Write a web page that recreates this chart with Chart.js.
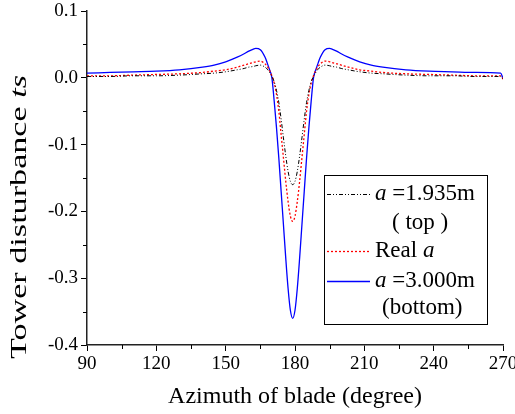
<!DOCTYPE html>
<html>
<head>
<meta charset="utf-8">
<script src="https://cdn.jsdelivr.net/npm/chart.js@4.4.1/dist/chart.umd.min.js"></script>
<style>
  html, body { margin: 0; padding: 0; background: #fff; }
  #wrap { width: 515px; height: 414px; }
</style>
</head>
<body>
<div id="wrap"><canvas id="ts_chart"></canvas></div>
<script>
// blade azimuth (degree)
const azimuth = [90, 100, 110, 120, 130, 140, 145, 150, 155, 158, 160, 162, 163, 165, 167, 168, 169,
  170, 171, 172, 173, 174, 175, 176, 177, 178, 179, 180, 181, 182, 183, 184, 185, 186, 187, 188,
  189, 190, 191, 193, 195, 196, 198, 200, 203, 208, 213, 218, 228, 238, 248, 258, 269, 270];

// tower disturbance ts, a = 1.935m (top)
const tsTop = [0.002, 0.002, 0.003, 0.003, 0.004, 0.006, 0.007, 0.009, 0.012, 0.014, 0.016, 0.017, 0.018, 0.019, 0.016, 0.013, 0.008,
  0.002, -0.006, -0.019, -0.037, -0.062, -0.09, -0.117, -0.14, -0.155, -0.16, -0.155, -0.14, -0.117, -0.09, -0.062, -0.037, -0.019, -0.006, 0.002,
  0.008, 0.013, 0.016, 0.019, 0.018, 0.017, 0.016, 0.014, 0.012, 0.009, 0.007, 0.006, 0.004, 0.003, 0.003, 0.002, 0.002, -0.002];

// real a
const tsReal = [0.003, 0.003, 0.004, 0.005, 0.006, 0.008, 0.010, 0.012, 0.016, 0.019, 0.021, 0.023, 0.024, 0.025, 0.021, 0.017, 0.011,
  0.003, -0.008, -0.025, -0.05, -0.085, -0.12, -0.155, -0.185, -0.207, -0.215, -0.207, -0.185, -0.155, -0.12, -0.085, -0.05, -0.025, -0.008, 0.003,
  0.011, 0.017, 0.021, 0.025, 0.024, 0.023, 0.021, 0.019, 0.016, 0.012, 0.010, 0.008, 0.006, 0.005, 0.004, 0.003, 0.003, -0.002];

// a = 3.000m (bottom)
const tsBottom = [0.007, 0.008, 0.009, 0.010, 0.012, 0.016, 0.019, 0.024, 0.031, 0.036, 0.040, 0.043, 0.044, 0.042, 0.031, 0.022, 0.012,
  0.000, -0.035, -0.075, -0.12, -0.17, -0.22, -0.27, -0.315, -0.348, -0.36, -0.348, -0.315, -0.27, -0.22, -0.17, -0.12, -0.075, -0.035, 0.000,
  0.012, 0.022, 0.031, 0.042, 0.044, 0.043, 0.040, 0.036, 0.031, 0.024, 0.019, 0.016, 0.012, 0.010, 0.009, 0.008, 0.007, -0.001];

const xTicks = [90, 120, 150, 180, 210, 240, 270];
const xMinor = [105, 135, 165, 195, 225, 255];
const yTicks = [0.1, 0.0, -0.1, -0.2, -0.3, -0.4];
const yMinor = [0.05, -0.05, -0.15, -0.25, -0.35];

const serif = "'Liberation Serif', 'Times New Roman', serif";

const pts = vals => azimuth.map((a, i) => ({ x: a, y: vals[i] }));

// draws one run of text made of [string, italic] pieces, starting at x
function drawRuns(ctx, runs, x, y, size) {
  runs.forEach(([s, it]) => {
    ctx.font = (it ? 'italic ' : '') + size + 'px ' + serif;
    ctx.fillText(s, x, y);
    x += ctx.measureText(s).width;
  });
}
function runsWidth(ctx, runs, size) {
  return runs.reduce((w, [s, it]) => {
    ctx.font = (it ? 'italic ' : '') + size + 'px ' + serif;
    return w + ctx.measureText(s).width;
  }, 0);
}

const decor = {
  id: 'decor',
  afterDraw(chart) {
    const { ctx, chartArea: ca, scales: { x, y } } = chart;
    ctx.save();

    // minor ticks
    ctx.strokeStyle = '#000';
    ctx.lineWidth = 1;
    ctx.beginPath();
    xMinor.forEach(v => {
      const px = Math.round(x.getPixelForValue(v)) + 0.5;
      ctx.moveTo(px, ca.bottom); ctx.lineTo(px, ca.bottom + 4);
    });
    yMinor.forEach(v => {
      const py = Math.round(y.getPixelForValue(v)) + 0.5;
      ctx.moveTo(ca.left - 4, py); ctx.lineTo(ca.left, py);
    });
    ctx.stroke();

    ctx.fillStyle = '#000';
    ctx.textBaseline = 'middle';

    // x title
    const xt = [['Azimuth of blade (degree)', false]];
    drawRuns(ctx, xt, 295 - runsWidth(ctx, xt, 24) / 2, 397, 24);

    // y title, drawn a little stretched along its length
    const yt = [['Tower disturbance ', false], ['ts', true]];
    ctx.save();
    ctx.translate(20, 217);
    ctx.rotate(-Math.PI / 2);
    const stretch = 284 / runsWidth(ctx, yt, 23);
    ctx.scale(stretch, 1);
    drawRuns(ctx, yt, -runsWidth(ctx, yt, 23) / 2, 0, 23);
    ctx.restore();

    // legend box
    const bx = ca.right - 179, by = ca.top + 164;
    ctx.lineWidth = 1;
    ctx.strokeStyle = '#000';
    ctx.strokeRect(bx + 0.5, by + 0.5, 163, 149);

    const entries = [
      { ds: 0, ly: 19, runs: [['a', true], [' =1.935m', false]] },
      { ds: 1, ly: 76, runs: [['Real ', false], ['a', true]] },
      { ds: 2, ly: 106, runs: [['a', true], [' =3.000m', false]] }
    ];
    entries.forEach(e => {
      const d = chart.data.datasets[e.ds];
      ctx.beginPath();
      ctx.strokeStyle = d.borderColor;
      ctx.lineWidth = d.borderWidth;
      ctx.setLineDash(d.borderDash || []);
      ctx.moveTo(bx + 3, by + e.ly + 0.5);
      ctx.lineTo(bx + 46, by + e.ly + 0.5);
      ctx.stroke();
      ctx.setLineDash([]);
      drawRuns(ctx, e.runs, bx + 51, by + e.ly, 23);
    });
    drawRuns(ctx, [['( top )', false]], bx + 68, by + 48, 23);
    drawRuns(ctx, [['(bottom)', false]], bx + 58, by + 133, 23);

    ctx.restore();
  }
};

new Chart(document.getElementById('ts_chart'), {
  type: 'line',
  data: {
    datasets: [
      { label: 'a =1.935m ( top )', data: pts(tsTop), borderColor: '#000000', borderWidth: 1, borderDash: [4, 2, 1, 2, 1, 2] },
      { label: 'Real a', data: pts(tsReal), borderColor: '#ff0000', borderWidth: 1.3, borderDash: [2, 2] },
      { label: 'a =3.000m (bottom)', data: pts(tsBottom), borderColor: '#0000ff', borderWidth: 1.3 }
    ]
  },
  options: {
    responsive: true,
    maintainAspectRatio: false,
    animation: false,
    layout: { padding: { top: 11, right: 12, left: 0, bottom: 0 } },
    elements: {
      point: { radius: 0 },
      line: { cubicInterpolationMode: 'monotone', fill: false }
    },
    plugins: { legend: { display: false }, tooltip: { enabled: false } },
    scales: {
      x: {
        type: 'linear',
        min: 90, max: 270,
        afterBuildTicks: s => { s.ticks = xTicks.map(v => ({ value: v })); },
        afterFit: s => { s.height = 69; s.paddingLeft = 0; s.paddingRight = 0; },
        grid: { drawOnChartArea: false, tickLength: 6, color: '#000' },
        border: { color: '#222', width: 1.5 },
        ticks: { font: { family: serif, size: 19 }, color: '#000', padding: 2, maxRotation: 0, callback: v => String(v) }
      },
      y: {
        type: 'linear',
        min: -0.4, max: 0.1,
        afterBuildTicks: s => { s.ticks = yTicks.map(v => ({ value: v })); },
        afterFit: s => { s.width = 87; s.paddingTop = 0; s.paddingBottom = 0; },
        grid: { drawOnChartArea: false, tickLength: 6, color: '#000' },
        border: { color: '#222', width: 1.5 },
        ticks: { font: { family: serif, size: 19 }, color: '#000', padding: 3, callback: v => v.toFixed(1) }
      }
    }
  },
  plugins: [decor]
});
</script>
</body>
</html>
